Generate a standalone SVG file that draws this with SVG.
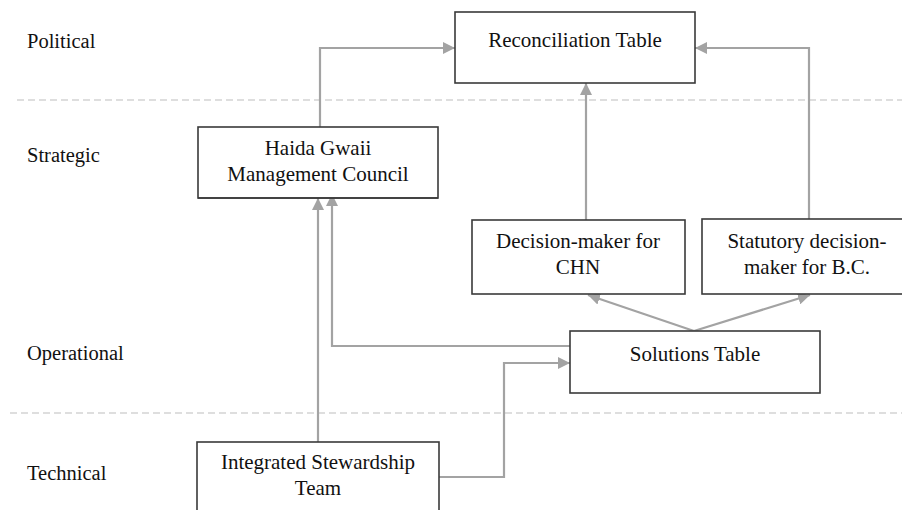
<svg xmlns="http://www.w3.org/2000/svg" width="902" height="510" viewBox="0 0 902 510">
<defs>
<style>
.box{fill:#fff;stroke:#3a3a3a;stroke-width:1.6}
.t{font-family:"Liberation Serif","Times New Roman",serif;font-size:21px;fill:#111;text-anchor:middle}
.lab{font-family:"Liberation Serif","Times New Roman",serif;font-size:20.5px;fill:#111}
.dash{stroke:#d4d4d4;stroke-width:1.3;stroke-dasharray:7 4;fill:none}
.c{fill:none;stroke:#a3a3a3;stroke-width:2.2}
</style>
<marker id="ah" viewBox="0 0 12 12" refX="12" refY="6" markerWidth="12" markerHeight="12" markerUnits="userSpaceOnUse" orient="auto">
<path d="M0,0 L12,6 L0,12 z" fill="#a3a3a3"/>
</marker>
</defs>
<rect width="902" height="510" fill="#fff"/>
<g id="lanes">
<line class="dash" x1="17" y1="100" x2="902" y2="100"/>
<line class="dash" x1="10" y1="413" x2="902" y2="413"/>
<text class="lab" x="27" y="48">Political</text>
<text class="lab" x="27" y="162">Strategic</text>
<text class="lab" x="27" y="360">Operational</text>
<text class="lab" x="27" y="480">Technical</text>
</g>
<g id="connectors">
<path class="c" d="M320,127 V48 H455" marker-end="url(#ah)"/>
<path class="c" d="M586,220 V83" marker-end="url(#ah)"/>
<path class="c" d="M809,219 V48 H695" marker-end="url(#ah)"/>
<path class="c" d="M694,331 L588,295" marker-end="url(#ah)"/>
<path class="c" d="M694,331 L810,295" marker-end="url(#ah)"/>
<path class="c" d="M570,346 H332 V194" marker-end="url(#ah)"/>
<path class="c" d="M318,442 V198" marker-end="url(#ah)"/>
<path class="c" d="M439,477 H504 V363 H570" marker-end="url(#ah)"/>
</g>
<g id="reconciliation">
<rect class="box" x="455" y="12" width="240" height="71"/>
<text class="t" x="575" y="47">Reconciliation Table</text>
</g>
<g id="haida">
<rect class="box" x="198" y="127" width="240" height="71"/>
<text class="t" x="318" y="155">Haida Gwaii</text>
<text class="t" x="318" y="181">Management Council</text>
</g>
<g id="chn">
<rect class="box" x="472" y="220" width="213" height="74"/>
<text class="t" x="578" y="248">Decision-maker for</text>
<text class="t" x="578" y="274">CHN</text>
</g>
<g id="bc">
<rect class="box" x="702" y="219" width="211" height="75"/>
<text class="t" x="807" y="248">Statutory decision-</text>
<text class="t" x="807" y="274">maker for B.C.</text>
</g>
<g id="solutions">
<rect class="box" x="570" y="331" width="250" height="62"/>
<text class="t" x="695" y="361">Solutions Table</text>
</g>
<g id="integrated">
<rect class="box" x="197" y="442" width="242" height="80"/>
<text class="t" x="318" y="469">Integrated Stewardship</text>
<text class="t" x="318" y="495">Team</text>
</g>
<g id="haida-front">
<line x1="198" y1="198" x2="438" y2="198" stroke="#3a3a3a" stroke-width="1.6"/>
</g>
</svg>
